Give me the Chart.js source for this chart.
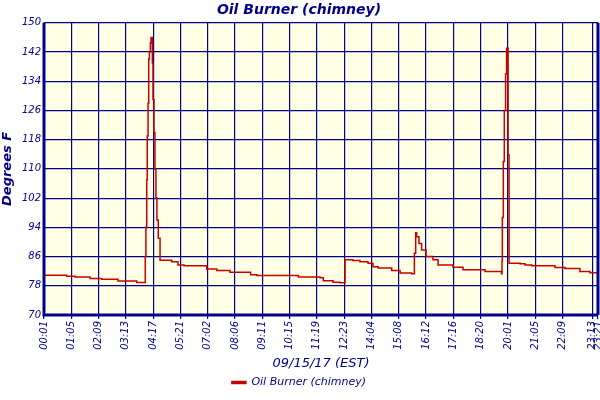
<!DOCTYPE html>
<html><head><meta charset="utf-8">
<script src="https://cdn.jsdelivr.net/npm/chart.js@4"></script>
<style>html,body{margin:0;background:#fff}#w{width:600px;height:400px}</style>
</head><body><div id="w"><canvas id="c"></canvas></div>
<script>
const sampleIdx = [0,13.8,18.9,28.0,35.1,45.0,56.4,61.6,62.0,62.5,62.8,63.3,63.7,64.1,64.7,65.1,65.9,66.3,66.9,67.5,68.1,68.7,69.5,70.6,77.7,81.5,85.2,99.0,105.1,113.1,125.7,129.4,154.7,167.9,169.9,175.8,180.1,183.1,187.9,192.2,197.1,200.1,203.2,211.5,216.6,223.7,225.3,226.1,226.7,228.1,229.7,232.4,236.6,239.7,248.8,254.9,268.3,278.3,278.6,278.8,279.4,280.0,280.8,281.4,282.3,282.9,289.6,292.6,296.7,310.8,316.9,326.0,332.1,337];
const tempF = [80.85,80.6,80.4,80.0,79.8,79.3,78.9,86,94,107,119,128,140,142,144.5,146,139,129,120,110,102,96,91,85.0,84.6,83.7,83.5,82.6,82.2,81.7,81.0,80.8,80.4,80.2,79.4,79.0,78.8,85.1,84.9,84.6,84.2,83.2,82.9,82.2,81.5,81.3,86.9,92.5,91.4,89.6,87.8,86,85.1,83.7,83.1,82.4,81.9,81.3,84.8,96.7,112,126,136,143,113.8,84.2,84.0,83.7,83.5,83.0,82.7,81.9,81.6,81.6];
const tickLabels = ["00:01","01:05","02:09","03:13","04:17","05:21","07:02","08:06","09:11","10:15","11:19","12:23","14:04","15:08","16:12","17:16","18:20","20:01","21:05","22:09","23:13","23:21"];
const tickPos = [0,16.6,33.2,49.8,66.4,83,99.6,116.2,132.8,149.4,166,182.6,199.2,215.8,232.4,249,265.6,282.2,298.8,315.4,333.5,337];
const yTicks = [70,78,86,94,102,110,118,126,134,142,150];
const navy = '#00008b';
const bg = {id:'bg',beforeDraw(ch){const a=ch.chartArea,c=ch.ctx;c.save();c.fillStyle='#ffffe6';c.fillRect(a.left,a.top,a.right-a.left,a.bottom-a.top);c.restore();},
 afterDraw(ch){const a=ch.chartArea,c=ch.ctx;c.save();c.strokeStyle=navy;c.lineWidth=3;c.beginPath();c.moveTo(a.left,a.top);c.lineTo(a.left,a.bottom);c.lineTo(a.right,a.bottom);c.moveTo(a.right,a.top);c.lineTo(a.right,a.bottom);c.stroke();c.restore();}};
new Chart(document.getElementById('c'),{
 type:'line',
 data:{datasets:[{label:'Oil Burner (chimney)',data:sampleIdx.map((x,i)=>({x,y:tempF[i]})),borderColor:'#cc0000',backgroundColor:'#cc0000',borderWidth:1.5,pointRadius:0,stepped:'before',fill:false}]},
 plugins:[bg],
 options:{responsive:true,maintainAspectRatio:false,animation:false,
  layout:{padding:{right:2,left:0,bottom:2}},
  plugins:{
   title:{display:true,text:'Oil Burner (chimney)',color:navy,font:{family:'DejaVu Sans',size:14,style:'italic',weight:'bold'},padding:{top:2,bottom:4}},
   legend:{position:'bottom',labels:{color:navy,boxWidth:14,boxHeight:2,font:{family:'DejaVu Sans',size:11,style:'italic'},padding:6}},
   tooltip:{enabled:false}},
  scales:{
   x:{type:'linear',min:0,max:337,
    afterBuildTicks(s){s.ticks=tickPos.map(v=>({value:v}));},
    afterFit(s){s.height=56;s.paddingRight=0;s.paddingLeft=0;},
    ticks:{autoSkip:false,maxRotation:90,minRotation:90,color:navy,font:{family:'DejaVu Sans',size:10,style:'italic'},padding:2,
     callback(v,i){return tickLabels[i];}},
    grid:{color:navy,lineWidth:1.2,drawTicks:true,tickLength:4},border:{display:false},
    title:{display:true,text:'09/15/17 (EST)',color:navy,font:{family:'DejaVu Sans',size:13,style:'italic'},padding:{top:0,bottom:0}}},
   y:{min:70,max:150,
    afterBuildTicks(s){s.ticks=yTicks.map(v=>({value:v}));},
    afterFit(s){s.width=44;s.paddingTop=0;s.paddingBottom=0;},
    ticks:{color:navy,font:{family:'DejaVu Sans',size:10,style:'italic'},padding:3},
    grid:{color:navy,lineWidth:1.2,tickLength:0},border:{display:false},
    title:{display:true,text:'Degrees F',color:navy,font:{family:'DejaVu Sans',size:13,style:'italic',weight:'bold'},padding:{top:0,bottom:0}}}
  }}
});
</script></body></html>
